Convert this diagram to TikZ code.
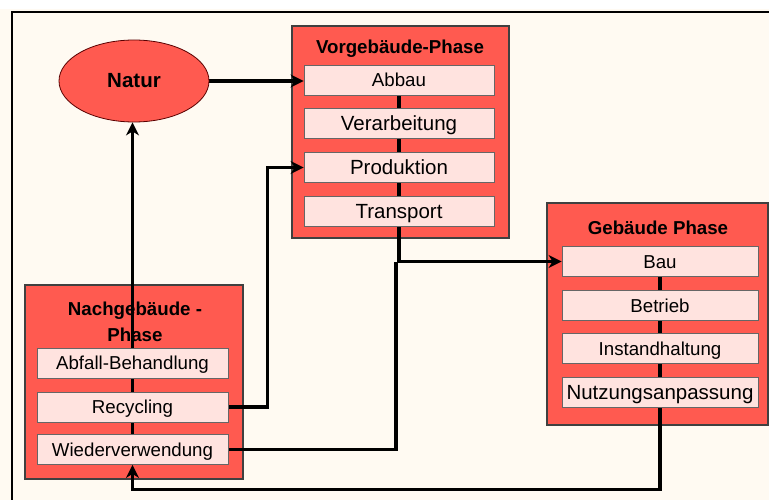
\documentclass[tikz,border=0pt]{standalone}
\usepackage{fontspec}
\setmainfont{Liberation Sans}
\usetikzlibrary{positioning}
\usetikzlibrary{shapes.geometric}
\usetikzlibrary{arrows.meta}
\definecolor{phasered}{HTML}{FF5A50}
\definecolor{steppink}{HTML}{FFE3DF}
\definecolor{paper}{HTML}{FFFAF2}
\pgfdeclarelayer{paperlayer}
\pgfdeclarelayer{back}
\pgfdeclarelayer{mid}
\pgfsetlayers{paperlayer,back,mid,main}

\begin{document}
\begin{tikzpicture}[x=1pt,y=-1pt,
  phase/.style={draw=black!75, line width=1.2pt, fill=phasered, inner sep=0pt},
  title/.style={font=\fontsize{18.7}{26}\selectfont\bfseries, align=center},
  item/.style={draw=black!60, line width=0.8pt, fill=steppink, minimum height=30pt, inner sep=0pt, text height=13.4pt, text depth=0pt, font=\fontsize{18.7}{22}\selectfont},
  big/.style={font=\fontsize{20.5}{24}\selectfont, text height=14.7pt},
  flow/.style={black, line width=3.6pt},
  tip/.style={flow, -{Stealth[length=13pt,width=13pt,inset=4pt]}}]

\useasboundingbox (0,0) rectangle (769,500);
\begin{pgfonlayer}{paperlayer}
\fill[paper] (0,9) rectangle (769,500);
\draw[line width=1.2pt] (12,500) -- (12,12) -- (769,12);
\end{pgfonlayer}

% phases
\begin{pgfonlayer}{back}
\node[phase, minimum width=217pt, minimum height=212pt] (vor) at (400.5,132) {};
\node[phase, minimum width=221pt, minimum height=222pt] (geb) at (657.5,314) {};
\node[phase, minimum width=218pt, minimum height=194pt] (nach) at (134,382) {};
\node[title] (vortitle) at (400,49) {Vorgebäude-Phase};
\node[title] (gebtitle) at (658,228) {Gebäude Phase};
\node[title] (nachtitle) at (135,322) {Nachgebäude -\\Phase};
\end{pgfonlayer}

\node[ellipse, draw=red!35!black, line width=0.8pt, fill=phasered, minimum width=150pt, minimum height=82pt, font=\fontsize{20.5}{24}\selectfont\bfseries] (natur) at (134,81) {Natur};

% Vorgebaeude
\node[item, minimum width=190pt] (abbau) at (399,80) {Abbau};
\node[item, big, minimum width=190pt] (verarb) at (399,123.5) {Verarbeitung};
\node[item, big, minimum width=190pt] (prod) at (399,167.5) {Produktion};
\node[item, big, minimum width=190pt] (transport) at (399,211.5) {Transport};

% Gebaeude
\node[item, minimum width=196pt] (bau) at (660,261.5) {Bau};
\node[item, minimum width=196pt] (betrieb) at (660,305.5) {Betrieb};
\node[item, minimum width=196pt] (instand) at (660,348.5) {Instandhaltung};
\node[item, big, minimum width=196pt] (nutz) at (660,392) {Nutzungsanpassung};

% Nachgebaeude
\node[item, minimum width=191pt] (abfall) at (132.5,363) {Abfall-Behandlung};
\node[item, minimum width=191pt] (recyc) at (132.5,407) {Recycling};
\node[item, minimum width=191pt] (wieder) at (132.5,449.5) {Wiederverwendung};

\coordinate (join) at (396,261.5);

\begin{pgfonlayer}{mid}
\draw[flow] (abbau) -- (transport);
\draw[flow] (bau) -- (nutz);
\draw[tip] (wieder.north) -- (wieder.north |- natur.south);
\draw[tip] (natur.east) -- (natur.east -| abbau.west);
\draw[tip] (recyc.east) -- ++(39,0) |- (prod.west);
\draw[tip] (transport.south) |- (bau.west);
\draw[flow] (wieder.east) -| (join);
\draw[tip] (nutz.south) -- ++(0,82) -| (wieder.south);
\end{pgfonlayer}

\end{tikzpicture}
\end{document}
